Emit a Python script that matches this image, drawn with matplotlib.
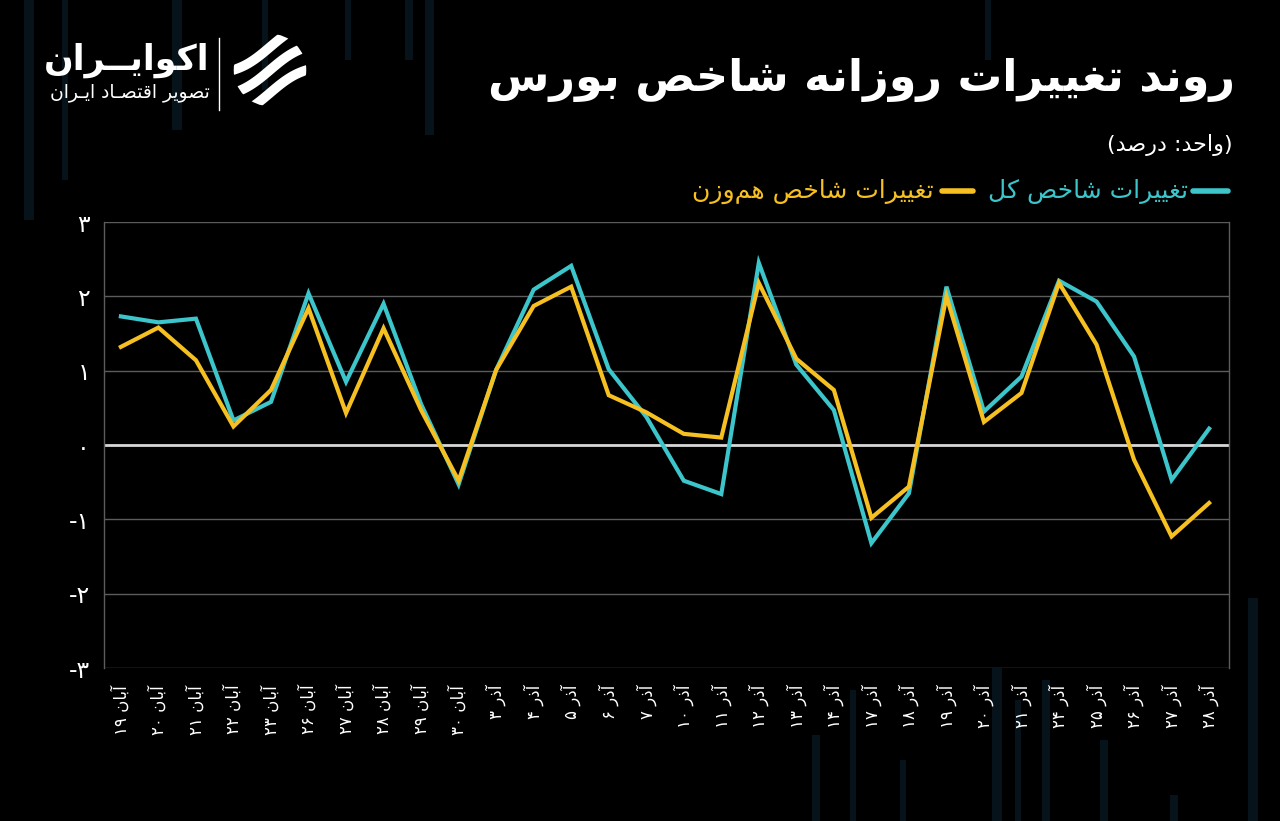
import re
import numpy as np
import matplotlib
matplotlib.use("Agg")
import matplotlib.pyplot as plt
from matplotlib.patches import Circle

# ---- data -------------------------------------------------------------
dates = [
    "آبان ۱۹", "آبان ۲۰", "آبان ۲۱", "آبان ۲۲", "آبان ۲۳", "آبان ۲۶", "آبان ۲۷",
    "آبان ۲۸", "آبان ۲۹", "آبان ۳۰",
    "آذر ۳", "آذر ۴", "آذر ۵", "آذر ۶", "آذر ۷", "آذر ۱۰", "آذر ۱۱", "آذر ۱۲",
    "آذر ۱۳", "آذر ۱۴", "آذر ۱۷", "آذر ۱۸", "آذر ۱۹", "آذر ۲۰", "آذر ۲۱",
    "آذر ۲۴", "آذر ۲۵", "آذر ۲۶", "آذر ۲۷", "آذر ۲۸",
]
total_index = [1.73, 1.65, 1.70, 0.33, 0.58, 2.04, 0.85, 1.90, 0.55, -0.53,
               1.01, 2.09, 2.41, 1.02, 0.38, -0.48, -0.66, 2.45, 1.08, 0.47,
               -1.32, -0.65, 2.13, 0.45, 0.92, 2.21, 1.93, 1.19, -0.47, 0.22]
equal_weight = [1.32, 1.58, 1.14, 0.25, 0.74, 1.84, 0.43, 1.57, 0.47, -0.48,
                1.01, 1.87, 2.13, 0.67, 0.44, 0.15, 0.10, 2.18, 1.16, 0.74,
                -0.98, -0.56, 2.00, 0.31, 0.70, 2.18, 1.35, -0.20, -1.23, -0.78]
y_ticks = [-3, -2, -1, 0, 1, 2, 3]

title = "روند تغییرات روزانه شاخص بورس"
unit = "(واحد: درصد)"
name_total = "تغییرات شاخص کل"
name_equal = "تغییرات شاخص هم\u200cوزن"
brand = "اکوایــران"
brand_sub = "تصویر اقتصـاد ایـران"

CYAN = "#3cc5cb"
YELLOW = "#f6c021"

# ---- minimal Persian shaping (matplotlib has no bidi / joining) -------
FORMS = {
    "ا": (0xFE8D, 0xFE8E), "آ": (0xFE81, 0xFE82), "د": (0xFEA9, 0xFEAA),
    "ذ": (0xFEAB, 0xFEAC), "ر": (0xFEAD, 0xFEAE), "ز": (0xFEAF, 0xFEB0),
    "و": (0xFEED, 0xFEEE),
    "ب": (0xFE8F, 0xFE90, 0xFE91, 0xFE92), "ت": (0xFE95, 0xFE96, 0xFE97, 0xFE98),
    "ح": (0xFEA1, 0xFEA2, 0xFEA3, 0xFEA4), "خ": (0xFEA5, 0xFEA6, 0xFEA7, 0xFEA8),
    "س": (0xFEB1, 0xFEB2, 0xFEB3, 0xFEB4), "ش": (0xFEB5, 0xFEB6, 0xFEB7, 0xFEB8),
    "ص": (0xFEB9, 0xFEBA, 0xFEBB, 0xFEBC), "غ": (0xFECD, 0xFECE, 0xFECF, 0xFED0),
    "ق": (0xFED5, 0xFED6, 0xFED7, 0xFED8), "ک": (0xFB8E, 0xFB8F, 0xFB90, 0xFB91),
    "ل": (0xFEDD, 0xFEDE, 0xFEDF, 0xFEE0), "م": (0xFEE1, 0xFEE2, 0xFEE3, 0xFEE4),
    "ن": (0xFEE5, 0xFEE6, 0xFEE7, 0xFEE8), "ه": (0xFEE9, 0xFEEA, 0xFEEB, 0xFEEC),
    "ی": (0xFBFC, 0xFBFD, 0xFBFE, 0xFBFF),
    "\u0640": (0x640, 0x640, 0x640, 0x640),
}
MIRROR = {"(": ")", ")": "("}


def fa(text):
    out = []
    for i, ch in enumerate(text):
        if ch not in FORMS:
            if ch != "\u200c":
                out.append(ch)
            continue
        f = FORMS[ch]
        prev = text[i - 1] if i > 0 else ""
        nxt = text[i + 1] if i + 1 < len(text) else ""
        jp = prev in FORMS and len(FORMS[prev]) == 4
        jn = len(f) == 4 and nxt in FORMS
        if jp and jn:
            out.append(chr(f[3]))
        elif jp:
            out.append(chr(f[1]))
        elif jn:
            out.append(chr(f[2]))
        else:
            out.append(chr(f[0]))
    s = "".join(out)
    runs = re.findall(r"[0-9۰-۹\-]+|[^0-9۰-۹\-]+", s)
    vis = []
    for r in reversed(runs):
        if re.match(r"[0-9۰-۹\-]", r):
            vis.append(r)
        else:
            vis.append("".join(MIRROR.get(c, c) for c in reversed(r)))
    return "".join(vis)


def fa_num(v):
    s = str(abs(v)).translate(str.maketrans("0123456789", "۰۱۲۳۴۵۶۷۸۹"))
    return "-" + s if v < 0 else s


plt.rcParams["font.family"] = ["DejaVu Sans"]

fig = plt.figure(figsize=(12.8, 8.21), dpi=100, facecolor="black")

# faint background bars (decoration of the original artwork)
deco = fig.add_axes([0, 0, 1, 1], zorder=-5)
deco.set_xlim(0, 1280)
deco.set_ylim(821, 0)
deco.axis("off")
for x0, y0, y1, w in [(24, 0, 220, 10), (62, 0, 180, 6), (172, 0, 130, 10),
                      (262, 0, 90, 6), (345, 0, 60, 6), (405, 0, 60, 8),
                      (425, 0, 135, 9), (985, 0, 60, 6), (992, 600, 821, 10),
                      (1015, 700, 821, 6), (1042, 680, 821, 8), (1100, 740, 821, 8),
                      (1170, 795, 821, 8), (1248, 598, 821, 10), (812, 735, 821, 8),
                      (850, 690, 821, 6), (900, 760, 821, 6)]:
    deco.fill_between([x0, x0 + w], y0, y1, color="#07131a", lw=0)

# ---- main chart -------------------------------------------------------
ax = fig.add_axes([104 / 1280, 153 / 821, 1125 / 1280, 446 / 821])
ax.set_facecolor("black")
x = np.arange(len(dates))
ax.plot(x, total_index, color=CYAN, lw=3.0, solid_joinstyle="miter", zorder=3)
ax.plot(x, equal_weight, color=YELLOW, lw=3.0, solid_joinstyle="miter", zorder=4)

ax.set_xlim(-0.45, len(dates) - 0.47)
ax.set_ylim(-3, 3)
ax.set_yticks(y_ticks)
ax.set_yticklabels([fa_num(v) for v in y_ticks], color="white", fontsize=17)
ax.set_xticks(x)
ax.set_xticklabels([fa(d) for d in dates], rotation=90, color="white", fontsize=12)
ax.tick_params(axis="both", length=0)
ax.tick_params(axis="y", pad=10)
ax.tick_params(axis="x", pad=12)
for v in y_ticks:
    if v == 0:
        ax.axhline(v, color="#d8d8d8", lw=2.0, zorder=2)
    else:
        ax.axhline(v, color="#5c5c5c", lw=1.0, zorder=1)
for side in ["top", "bottom"]:
    ax.spines[side].set_visible(False)
for side in ["left", "right"]:
    ax.spines[side].set_color("#5c5c5c")
    ax.spines[side].set_linewidth(1.0)

# ---- titles / legend --------------------------------------------------
fig.text(1235 / 1280, 1 - 80 / 821, fa(title), ha="right", va="center",
         color="white", fontsize=32, fontweight="bold")
fig.text(1233 / 1280, 1 - 145 / 821, fa(unit), ha="right", va="center",
         color="white", fontsize=16)

ly = 1 - 191 / 821
fig.add_artist(plt.Line2D([1193 / 1280, 1228 / 1280], [ly, ly], color=CYAN,
                          lw=4, solid_capstyle="round"))
fig.text(1188 / 1280, ly, fa(name_total), ha="right", va="center",
         color=CYAN, fontsize=18)
fig.add_artist(plt.Line2D([942 / 1280, 973 / 1280], [ly, ly], color=YELLOW,
                          lw=4, solid_capstyle="round"))
fig.text(934 / 1280, ly, fa(name_equal), ha="right", va="center",
         color=YELLOW, fontsize=18)

# ---- logo ---------------------------------------------------------------
fig.text(210 / 1280, 1 - 60 / 821, fa(brand), ha="right", va="center",
         color="white", fontsize=25, fontweight="bold")
fig.text(210 / 1280, 1 - 93 / 821, fa(brand_sub), ha="right", va="center",
         color="white", fontsize=13.5)
fig.add_artist(plt.Line2D([219 / 1280, 219 / 1280], [1 - 38 / 821, 1 - 110 / 821],
                          color="white", lw=1))

logo = fig.add_axes([233 / 1280, 1 - 107 / 821, 74 / 1280, 74 / 821])
logo.set_xlim(-1, 1)
logo.set_ylim(-1, 1)
logo.axis("off")
clip = Circle((0, 0), 0.98, transform=logo.transData)
for off in [-0.62, 0.0, 0.62]:
    t = np.linspace(-1.2, 1.2, 50)
    ln, = logo.plot(t, 0.55 * t + off + 0.12 * np.sin(t * 2.5), color="white",
                    lw=7, solid_capstyle="butt")
    ln.set_clip_path(clip)

fig.savefig("out.png", dpi=100, facecolor="black")
